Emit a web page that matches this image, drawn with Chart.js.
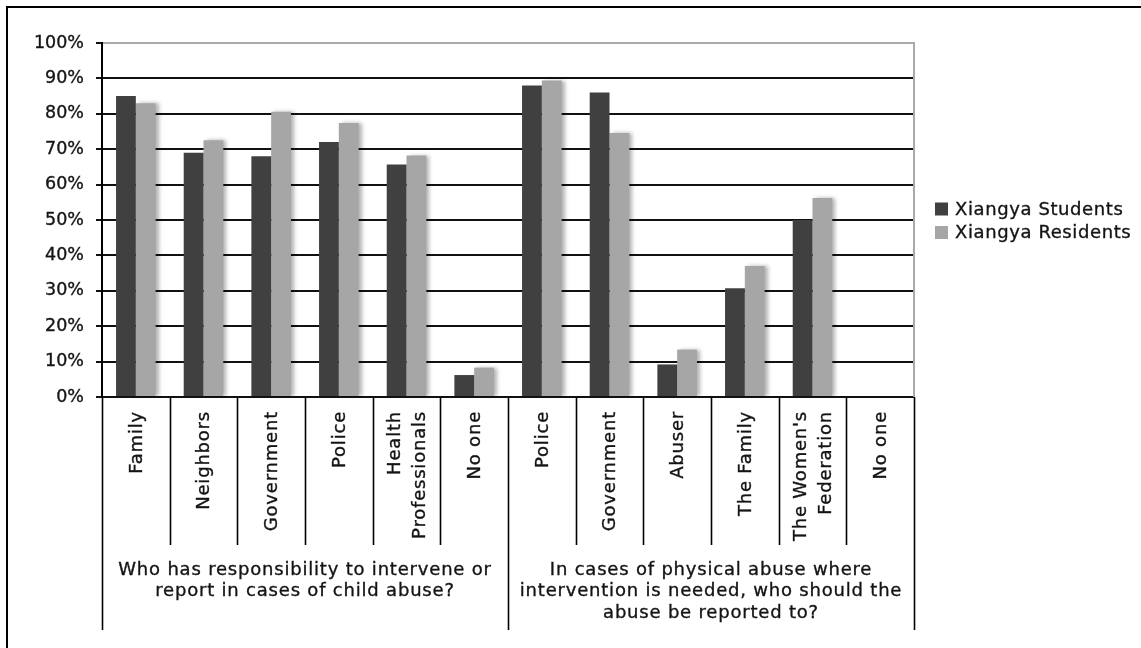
<!DOCTYPE html>
<html>
<head>
<meta charset="utf-8">
<title>Who should intervene in child abuse</title>
<script src="https://cdn.jsdelivr.net/npm/chart.js@4.4.1/dist/chart.umd.min.js"></script>
<style>
  html, body { margin: 0; background: #fff; }
  #wrap { width: 1141px; height: 648px; }
</style>
</head>
<body>
<div id="wrap"><canvas id="chart" width="1141" height="648"></canvas></div>
<script>
// survey answers, two question groups side by side
const categories = [
  "Family", "Neighbors", "Government", "Police", ["Health", "Professionals"], "No one",
  "Police", "Government", "Abuser", "The Family", ["The Women's", "Federation"], "No one",
];
const groupTitles = [
  ["Who has responsibility to intervene or", "report in cases of child abuse?"],
  ["In cases of physical abuse where", "intervention is needed, who should the", "abuse be reported to?"],
];
const groupSizes = [6, 6];
const seriesNames = ["Xiangya Students", "Xiangya Residents"];
const students = [85, 69, 68, 72, 65.7, 6.2, 88, 86, 9.2, 30.7, 50, 0];
const residents = [83, 72.5, 80.6, 77.4, 68.2, 8.3, 89.4, 74.6, 13.4, 37, 56.2, 0];
const percentTicks = [0, 10, 20, 30, 40, 50, 60, 70, 80, 90, 100];

const FONT = "'DejaVu Sans', Verdana, sans-serif";
const TEXT = "#141414";

// soft shadow on the light bars
const barShadow = {
  id: "barShadow",
  beforeDatasetDraw(chart, args) {
    if (args.index !== 1) return;
    const ctx = chart.ctx;
    ctx.save();
    ctx.shadowColor = "rgba(0,0,0,0.3)";
    ctx.shadowBlur = 4;
    ctx.shadowOffsetX = 3;
    ctx.shadowOffsetY = 0;
  },
  afterDatasetDraw(chart, args) {
    if (args.index === 1) chart.ctx.restore();
  },
};

// slightly heavier text, like the hinted Verdana of the original export
function heavyText(ctx, str, x, y) {
  ctx.fillText(str, x, y);
  ctx.strokeText(str, x, y);
}

const decorations = {
  id: "decorations",
  beforeDraw(chart) {
    const ctx = chart.ctx;
    ctx.save();
    ctx.strokeStyle = "#000";
    ctx.lineWidth = 2;
    ctx.beginPath();
    ctx.moveTo(chart.width + 5, 7);
    ctx.lineTo(7, 7);
    ctx.lineTo(7, chart.height + 5);
    ctx.stroke();
    ctx.restore();
  },
  afterDraw(chart) {
    const { ctx, chartArea: area } = chart;
    const x = chart.scales.x;
    const half = (x.getPixelForValue(1) - x.getPixelForValue(0)) / 2;
    const n = categories.length;
    const edge = (i) => (i < n ? x.getPixelForValue(i) - half : x.getPixelForValue(n - 1) + half);

    ctx.save();
    // plot frame on the right
    ctx.strokeStyle = "#a9a9a9";
    ctx.lineWidth = 2;
    ctx.beginPath();
    ctx.moveTo(area.right, area.top - 1);
    ctx.lineTo(area.right, area.bottom);
    ctx.stroke();

    // category separators, longer at group edges
    const groupEdges = [0];
    groupSizes.forEach((s) => groupEdges.push(groupEdges[groupEdges.length - 1] + s));
    ctx.strokeStyle = "#000";
    ctx.lineWidth = 1.6;
    for (let i = 0; i <= n; i++) {
      const px = Math.round(edge(i)) + 0.5;
      ctx.beginPath();
      ctx.moveTo(px, area.bottom);
      ctx.lineTo(px, groupEdges.includes(i) ? 630 : 545);
      ctx.stroke();
    }

    ctx.fillStyle = TEXT;
    ctx.strokeStyle = TEXT;
    ctx.lineWidth = 0.35;
    ctx.font = "18px " + FONT;
    ctx.letterSpacing = "0.8px";

    // rotated category labels
    categories.forEach((label, i) => {
      const lines = Array.isArray(label) ? label : [label];
      const cx = x.getPixelForValue(i);
      ctx.save();
      ctx.translate(cx, 411);
      ctx.rotate(-Math.PI / 2);
      ctx.textAlign = "right";
      ctx.textBaseline = "middle";
      lines.forEach((line, k) => {
        heavyText(ctx, line, 0, (k - (lines.length - 1) / 2) * 25 + 1);
      });
      ctx.restore();
    });

    // group titles
    ctx.textAlign = "center";
    ctx.textBaseline = "middle";
    groupTitles.forEach((lines, g) => {
      const cx = (edge(groupEdges[g]) + edge(groupEdges[g + 1])) / 2;
      lines.forEach((line, k) => heavyText(ctx, line, cx, 570 + k * 21.5));
    });

    // legend
    ctx.textAlign = "left";
    ctx.letterSpacing = "0.6px";
    chart.data.datasets.forEach((ds, i) => {
      const cy = 209 + i * 23.5;
      ctx.fillStyle = ds.backgroundColor;
      ctx.fillRect(935, cy - 6.5, 13, 13);
      ctx.fillStyle = TEXT;
      heavyText(ctx, seriesNames[i], 955, cy + 1);
    });
    ctx.restore();
  },
};

new Chart(document.getElementById("chart"), {
  type: "bar",
  data: {
    labels: categories,
    datasets: [
      { label: seriesNames[0], data: students, backgroundColor: "#404040" },
      { label: seriesNames[1], data: residents, backgroundColor: "#a6a6a6" },
    ],
  },
  options: {
    responsive: false,
    animation: false,
    devicePixelRatio: 1,
    layout: { padding: { top: 43, right: 227, bottom: 251, left: 0 } },
    datasets: { bar: { categoryPercentage: 0.585, barPercentage: 1, borderWidth: 0 } },
    plugins: { legend: { display: false }, tooltip: { enabled: false } },
    scales: {
      x: { display: false },
      y: {
        min: 0,
        max: 100,
        afterFit(scale) { scale.width = 102; },
        afterBuildTicks(scale) { scale.ticks = percentTicks.map((v) => ({ value: v })); },
        border: { display: true, color: "#000", width: 2 },
        grid: {
          color: (c) => (c.tick && c.tick.value === 100 ? "#a9a9a9" : "#111"),
          lineWidth: 2,
          tickLength: 6,
          tickColor: "#111",
          tickWidth: 2,
        },
        ticks: {
          padding: 12,
          color: TEXT,
          textStrokeColor: TEXT,
          textStrokeWidth: 0.35,
          font: { family: FONT, size: 17.5 },
          callback: (v) => v + "%",
        },
      },
    },
  },
  plugins: [barShadow, decorations],
});
</script>
</body>
</html>
